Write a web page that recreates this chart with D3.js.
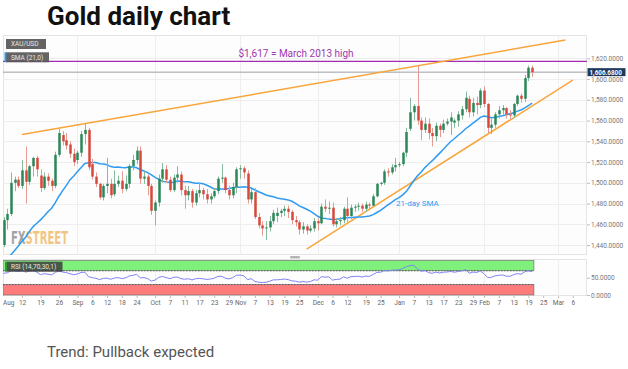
<!DOCTYPE html>
<html>
<head>
<meta charset="utf-8">
<script src="https://cdnjs.cloudflare.com/ajax/libs/d3/7.8.5/d3.min.js"></script>
<style>
body { margin: 0; background: #fff; }
svg { display: block; font-family: Roboto, "Liberation Sans", sans-serif; }
</style>
</head>
<body>
<div id="chart"></div>
<script>
// ---- data (XAU/USD daily, Aug 1 2019 -> Feb 20 2020, one value per trading day)
var firstDay = "2019-08-01", lastAxisDay = "2020-03-14";

var openP = [1413,1444,1440,1464,1470,1500,1503,1497,1512,1501,1516,1524,1507,1495,1506,1502,1497,1527,1546,1541,
  1537,1528,1522,1529,1547,1551,1518,1506,1499,1486,1497,1499,1489,1499,1502,1494,1499,1516,1522,1531,
  1504,1506,1497,1473,1481,1504,1513,1503,1493,1505,1508,1493,1488,1492,1481,1490,1493,1489,1484,1487,
  1492,1504,1505,1493,1488,1496,1513,1514,1509,1484,1491,1467,1459,1456,1457,1463,1468,1471,1473,1475,
  1472,1464,1462,1455,1458,1454,1456,1463,1461,1477,1475,1476,1460,1463,1464,1475,1468,1476,1477,1478,
  1475,1479,1478,1487,1499,1500,1511,1510,1515,1517,1518,1529,1552,1568,1574,1560,1551,1557,1548,1545,
  1555,1551,1557,1559,1558,1560,1565,1571,1581,1568,1577,1575,1589,1576,1553,1556,1566,1570,1572,1566,
  1565,1576,1584,1581,1601,1611];
var highP = [1445,1449,1467,1475,1510,1506,1506,1522,1535,1517,1525,1526,1513,1510,1509,1504,1530,1552,1550,1548,
  1540,1533,1531,1550,1557,1553,1523,1510,1500,1499,1524,1504,1512,1507,1511,1507,1518,1527,1535,1535,
  1511,1508,1499,1483,1508,1519,1517,1506,1508,1516,1511,1497,1497,1494,1493,1500,1495,1494,1490,1495,
  1506,1518,1506,1497,1500,1515,1517,1516,1512,1494,1495,1471,1463,1463,1468,1474,1476,1475,1478,1478,
  1474,1468,1464,1462,1460,1459,1466,1466,1480,1484,1482,1481,1466,1467,1477,1486,1479,1479,1481,1480,
  1482,1481,1489,1500,1501,1513,1514,1518,1524,1520,1530,1553,1582,1576,1613,1563,1563,1562,1553,1558,
  1557,1561,1562,1568,1562,1569,1574,1588,1584,1582,1583,1591,1593,1577,1562,1568,1574,1575,1573,1570,
  1577,1585,1586,1604,1613,1613];
var lowP = [1400,1431,1438,1455,1468,1492,1495,1494,1480,1498,1506,1506,1491,1493,1497,1492,1495,1525,1536,1532,
  1524,1516,1518,1525,1537,1512,1503,1496,1484,1483,1490,1485,1487,1496,1490,1492,1495,1512,1518,1499,
  1499,1488,1469,1459,1477,1500,1500,1491,1491,1500,1488,1475,1483,1476,1478,1486,1484,1480,1480,1485,
  1489,1500,1490,1484,1485,1490,1504,1504,1480,1480,1465,1456,1449,1445,1453,1460,1462,1467,1468,1466,
  1460,1458,1450,1451,1450,1452,1453,1454,1460,1472,1470,1458,1457,1459,1461,1462,1465,1472,1473,1472,
  1472,1474,1477,1486,1497,1498,1506,1508,1511,1515,1516,1525,1550,1560,1556,1541,1548,1542,1535,1540,
  1544,1548,1555,1546,1553,1554,1561,1568,1563,1564,1566,1572,1573,1548,1547,1553,1562,1566,1562,1561,
  1563,1574,1577,1578,1598,1602];
var closeP = [1444,1440,1464,1470,1500,1503,1497,1512,1501,1516,1524,1513,1495,1506,1502,1497,1527,1548,1540,1536,
  1528,1520,1529,1547,1551,1515,1506,1499,1486,1497,1499,1488,1499,1502,1494,1499,1516,1522,1531,1504,
  1506,1497,1473,1481,1504,1513,1503,1493,1505,1508,1493,1488,1492,1481,1490,1493,1489,1484,1487,1492,
  1504,1505,1493,1488,1496,1513,1514,1510,1484,1491,1467,1459,1456,1457,1463,1471,1471,1473,1475,1472,
  1464,1462,1455,1458,1454,1456,1463,1461,1477,1475,1476,1460,1463,1464,1475,1468,1476,1477,1478,1475,
  1479,1478,1487,1499,1500,1511,1510,1515,1517,1518,1529,1549,1568,1574,1560,1551,1557,1548,1545,1555,
  1551,1557,1559,1563,1560,1566,1571,1582,1568,1577,1575,1589,1576,1553,1556,1566,1570,1572,1566,1565,
  1576,1584,1581,1601,1611,1606.68];
// July 2019 closes, only feed the 21-day SMA and the RSI before the visible range
var julyClose = [1418,1419,1420,1399,1396,1397,1419,1404,1416,1414,1405,1425,1446,1426,1426,1418,1425,1414,1419,1426,1430,1413];

var tickDays = ["2019-08-01","2019-08-12","2019-08-19","2019-08-26","2019-09-02","2019-09-06","2019-09-12","2019-09-18",
  "2019-09-24","2019-10-01","2019-10-07","2019-10-11","2019-10-17","2019-10-23","2019-10-29","2019-11-01","2019-11-07",
  "2019-11-13","2019-11-19","2019-11-25","2019-12-02","2019-12-06","2019-12-12","2019-12-19","2019-12-25","2020-01-01",
  "2020-01-07","2020-01-13","2020-01-17","2020-01-23","2020-01-29","2020-02-03","2020-02-07","2020-02-13","2020-02-19",
  "2020-02-25","2020-03-02","2020-03-06"];
var tickLabels = ["Aug","12","19","26","Sep","6","12","18","24","Oct","7","11","17","23","29","Nov","7","13","19","25",
  "Dec","6","12","19","25","Jan","7","13","17","23","29","Feb","7","13","19","25","Mar","6"];
var monthDays = ["2019-09-02","2019-10-01","2019-11-01","2019-12-02","2020-01-01","2020-02-03","2020-03-02"];
var priceTicks = [1440,1460,1480,1500,1520,1540,1560,1580,1600,1620];
var rsiTicks = [0,50];

var upperTrend = [["2019-08-12",1546.5],["2020-03-04",1637.6]];
var lowerTrend = [["2019-11-27",1436],["2020-03-06",1599]];
var resistance = 1617;
var resistanceText = "$1,617 = March 2013 high";
var lastPrice = 1606.68;

// ---- setup
var W = 628, H = 369;
var L = 3, R = 587;
var mainTop = 35, mainBot = 255, rsiTop = 259, rsiBot = 296;

var parseDay = d3.timeParse("%Y-%m-%d"), fmtDay = d3.timeFormat("%Y-%m-%d");
var days = d3.timeDay.range(parseDay(firstDay), parseDay(lastAxisDay))
  .filter(function (d) { return d.getDay() !== 0 && d.getDay() !== 6; });
var dayIndex = {};
days.forEach(function (d, i) { dayIndex[fmtDay(d)] = i; });

var bars = closeP.map(function (c, i) {
  return { i: i, o: openP[i], h: highP[i], l: lowP[i], c: c };
});

// 21-day SMA and RSI(14)
var allClose = julyClose.concat(closeP), off = julyClose.length;
var sma = [], rsi = [];
var ag = 0, al = 0;
for (var k = 1; k < allClose.length; k++) {
  var ch = allClose[k] - allClose[k - 1];
  var g = Math.max(ch, 0), lo = Math.max(-ch, 0);
  if (k <= 14) { ag += g / 14; al += lo / 14; }
  else { ag = (ag * 13 + g) / 14; al = (al * 13 + lo) / 14; }
  if (k >= off) {
    rsi.push({ i: k - off, v: al === 0 ? 100 : 100 - 100 / (1 + ag / al) });
    sma.push({ i: k - off, v: d3.mean(allClose.slice(k - 20, k + 1)) });
  }
}

var x = d3.scaleLinear().domain([1.85, 159.85]).range([L, R]);
var y = d3.scaleLinear().domain([1430.4, 1642.5]).range([mainBot, mainTop]);
var yr = d3.scaleLinear().domain([0, 100]).range([295, 260.4]);

var svg = d3.select('#chart').append('svg')
  .attr('width', W)
  .attr('height', H);

svg.append('rect').attr('width', W).attr('height', H).attr('fill', '#fff');

var defs = svg.append('defs');
defs.append('clipPath').attr('id', 'clipMain').append('rect')
  .attr('x', L).attr('y', mainTop).attr('width', R - L).attr('height', mainBot - mainTop);
defs.append('clipPath').attr('id', 'clipRsi').append('rect')
  .attr('x', L).attr('y', rsiTop).attr('width', R - L).attr('height', rsiBot - rsiTop);
// two-tone fill for the watermark word
var wmGrad = defs.append('linearGradient').attr('id', 'wmFill')
  .attr('gradientUnits', 'userSpaceOnUse').attr('x1', 11).attr('x2', 68).attr('y1', 0).attr('y2', 0);
wmGrad.append('stop').attr('offset', 0.255).attr('stop-color', '#a3a3a3');
wmGrad.append('stop').attr('offset', 0.255).attr('stop-color', '#f2c483');

// panels
[[mainTop, mainBot], [rsiTop, rsiBot]].forEach(function (p) {
  svg.append('rect')
    .attr('x', L + 0.5).attr('y', p[0] + 0.5)
    .attr('width', R - L - 1).attr('height', p[1] - p[0] - 1)
    .attr('fill', '#fdfdfd').attr('stroke', '#e4e4e4');
});

// grid
svg.append('g').selectAll('line').data(priceTicks).enter().append('line')
  .attr('x1', L).attr('x2', R)
  .attr('y1', function (d) { return Math.round(y(d)) + 0.5; })
  .attr('y2', function (d) { return Math.round(y(d)) + 0.5; })
  .attr('stroke', '#eeeeee');
[[mainTop, mainBot], [rsiTop, rsiBot]].forEach(function (p) {
  svg.append('g').selectAll('line').data(monthDays).enter().append('line')
    .attr('x1', function (d) { return Math.round(x(dayIndex[d])) + 0.5; })
    .attr('x2', function (d) { return Math.round(x(dayIndex[d])) + 0.5; })
    .attr('y1', p[0]).attr('y2', p[1])
    .attr('stroke', '#eeeeee');
});

var main = svg.append('g').attr('clip-path', 'url(#clipMain)');

// watermark
main.append('text')
  .attr('x', 11).attr('y', 243.5)
  .attr('font-family', '"Liberation Sans Narrow", "DejaVu Sans Condensed", sans-serif')
  .attr('font-weight', 700).attr('font-size', 17).attr('fill', 'url(#wmFill)')
  .attr('textLength', 57).attr('lengthAdjust', 'spacingAndGlyphs')
  .text('FXSTREET');

// resistance and last price lines
main.append('line')
  .attr('x1', L).attr('x2', R)
  .attr('y1', y(resistance)).attr('y2', y(resistance))
  .attr('stroke', '#a42bb4').attr('stroke-width', 1.2);
main.append('text')
  .attr('x', 296).attr('y', y(resistance) - 4)
  .attr('text-anchor', 'middle')
  .attr('font-size', 10).attr('fill', '#a035b0')
  .text(resistanceText);
main.append('line')
  .attr('x1', L).attr('x2', R)
  .attr('y1', y(lastPrice)).attr('y2', y(lastPrice))
  .attr('stroke', '#9aa0a8').attr('stroke-width', 1);

// trend lines
[upperTrend, lowerTrend].forEach(function (t) {
  main.append('line')
    .attr('x1', x(dayIndex[t[0][0]])).attr('y1', y(t[0][1]))
    .attr('x2', x(dayIndex[t[1][0]])).attr('y2', y(t[1][1]))
    .attr('stroke', '#f8a53c').attr('stroke-width', 1.5);
});

// SMA
main.append('path')
  .datum(sma)
  .attr('fill', 'none')
  .attr('stroke', '#2f9bf0')
  .attr('stroke-width', 1.5)
  .attr('d', d3.line().x(function (d) { return x(d.i); }).y(function (d) { return y(d.v); }));
main.append('text')
  .attr('x', 396).attr('y', 206)
  .attr('font-size', 8).attr('fill', '#2f9bf0')
  .text('21-day SMA');

// candles
var candle = main.append('g').selectAll('g').data(bars).enter().append('g');
candle.append('line')
  .attr('x1', function (d) { return Math.round(x(d.i)) + 0.5; })
  .attr('x2', function (d) { return Math.round(x(d.i)) + 0.5; })
  .attr('y1', function (d) { return y(d.h); })
  .attr('y2', function (d) { return y(d.l); })
  .attr('stroke', function (d) { return d.c >= d.o ? '#86b99d' : '#e59a92'; });
candle.append('rect')
  .attr('x', function (d) { return Math.round(x(d.i)) - 0.75; })
  .attr('width', 2.5)
  .attr('y', function (d) { return y(Math.max(d.o, d.c)); })
  .attr('height', function (d) { return Math.max(1, Math.abs(y(d.o) - y(d.c))); })
  .attr('fill', function (d) { return d.c >= d.o ? '#2b8757' : '#d8473b'; });

// legend boxes
function tag(xp, yp, w, label, accent) {
  var g = svg.append('g');
  g.append('rect').attr('x', xp).attr('y', yp).attr('width', w).attr('height', 10)
    .attr('fill', '#575757').attr('fill-opacity', 0.92);
  if (accent) g.append('rect').attr('x', xp - 1.5).attr('y', yp).attr('width', 1.8).attr('height', 10).attr('fill', accent);
  g.append('text').attr('x', xp + 5).attr('y', yp + 7.2)
    .attr('font-size', 6.5).attr('fill', '#e6e6e6').text(label);
}
tag(6, 39, 40, 'XAU/USD');
tag(6, 52.3, 43, 'SMA (21,0)', '#2f9bf0');

// right price axis
var yAxis = svg.append('g')
  .attr('transform', 'translate(' + R + ',0)')
  .call(d3.axisRight(y).tickValues(priceTicks).tickFormat(d3.format(',.4f')).tickSize(3).tickPadding(1));
yAxis.select('.domain').remove();
yAxis.selectAll('line').attr('stroke', '#bbb');
yAxis.selectAll('text').attr('font-size', 6.5).attr('fill', '#777').attr('font-family', 'Roboto, sans-serif');

// last price tag
svg.append('rect')
  .attr('x', 587.5).attr('y', y(lastPrice) - 4).attr('width', 38).attr('height', 8)
  .attr('fill', '#1d3a5e');
svg.append('text')
  .attr('x', 589.5).attr('y', y(lastPrice) + 2.4)
  .attr('font-size', 6.3).attr('font-weight', 700).attr('fill', '#fff')
  .text(d3.format(',.4f')(lastPrice));

// RSI panel
var rsiG = svg.append('g').attr('clip-path', 'url(#clipRsi)');
var bandEnd = x(bars.length - 1) + 1.8;
rsiG.append('rect')
  .attr('x', L).attr('y', yr(100)).attr('width', bandEnd - L).attr('height', yr(70) - yr(100))
  .attr('fill', '#7ff07b').attr('stroke', '#666').attr('stroke-width', 0.6);
rsiG.append('rect')
  .attr('x', L).attr('y', yr(30)).attr('width', bandEnd - L).attr('height', yr(0) - yr(30))
  .attr('fill', '#ff7c7c').attr('stroke', '#666').attr('stroke-width', 0.6);
[70, 30].forEach(function (v) {
  rsiG.append('line')
    .attr('x1', L).attr('x2', bandEnd)
    .attr('y1', yr(v)).attr('y2', yr(v))
    .attr('stroke', '#444').attr('stroke-width', 0.7).attr('stroke-dasharray', '1.5,1.5');
});
rsiG.append('path')
  .datum(rsi)
  .attr('fill', 'none')
  .attr('stroke', '#7f84f2')
  .attr('stroke-width', 1)
  .attr('d', d3.line().x(function (d) { return x(d.i); }).y(function (d) { return yr(d.v); }));
var rtag = svg.append('g');
rtag.append('rect').attr('x', 6.5).attr('y', 261.7).attr('width', 56).attr('height', 10)
  .attr('fill', '#3d3d3d').attr('fill-opacity', 0.85);
rtag.append('rect').attr('x', 5).attr('y', 261.7).attr('width', 1.8).attr('height', 10).attr('fill', '#2aa02a');
rtag.append('text').attr('x', 11).attr('y', 268.9)
  .attr('font-size', 6.5).attr('fill', '#e6e6e6').text('RSI (14,70,30,1)');

var rAxis = svg.append('g')
  .attr('transform', 'translate(' + R + ',0)')
  .call(d3.axisRight(yr).tickValues(rsiTicks).tickFormat(d3.format('.4f')).tickSize(3).tickPadding(1));
rAxis.select('.domain').remove();
rAxis.selectAll('line').attr('stroke', '#bbb');
rAxis.selectAll('text').attr('font-size', 6.5).attr('fill', '#777').attr('font-family', 'Roboto, sans-serif');

// date axis
var xAxis = svg.append('g')
  .attr('transform', 'translate(0,' + rsiBot + ')')
  .call(d3.axisBottom(x)
    .tickValues(tickDays.map(function (d) { return dayIndex[d]; }))
    .tickFormat(function (d, i) { return tickLabels[i]; })
    .tickSize(2).tickPadding(2));
xAxis.select('.domain').remove();
xAxis.selectAll('line').attr('stroke', '#bbb');
xAxis.selectAll('text').attr('font-size', 6.5).attr('fill', '#666').attr('font-family', 'Roboto, sans-serif');
xAxis.selectAll('.tick').each(function () {
  var t = d3.select(this).select('text');
  var b = t.node().getBBox();
  var tx = d3.select(this).attr('transform').match(/translate\(([-\d.]+)/);
  var px = tx ? +tx[1] : 0;
  if (px - b.width / 2 < L) {
    t.attr('text-anchor', 'start').attr('x', L - px);
    d3.select(this).select('line').remove();
  }
});

// scroll thumb
svg.append('rect')
  .attr('x', 290).attr('y', 256).attr('width', 10).attr('height', 2.6)
  .attr('rx', 1).attr('fill', '#b5b5b5');

// titles
svg.append('text')
  .attr('x', 47).attr('y', 25)
  .attr('font-size', 26).attr('font-weight', 700).attr('fill', '#111')
  .text('Gold daily chart');
svg.append('text')
  .attr('x', 47).attr('y', 357)
  .attr('font-size', 15).attr('fill', '#555')
  .text('Trend: Pullback expected');
</script>
</body>
</html>
